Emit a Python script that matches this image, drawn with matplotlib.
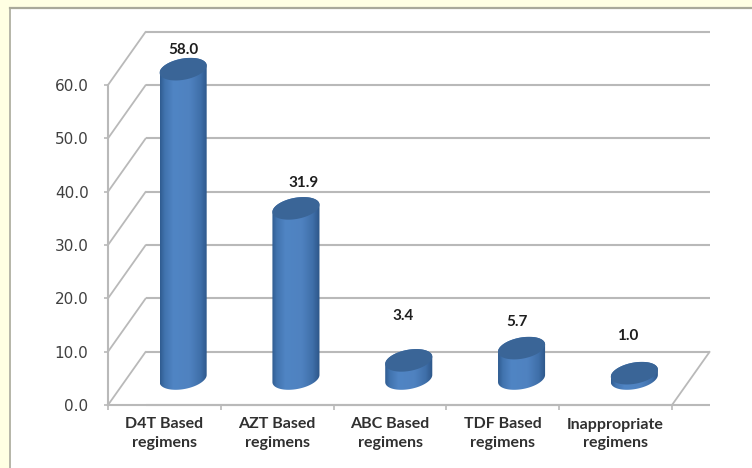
import numpy as np
import matplotlib
matplotlib.use("Agg")
import matplotlib.pyplot as plt
from matplotlib.colors import LinearSegmentedColormap
from matplotlib.patches import Polygon, Rectangle

categories = ["D4T Based\nregimens", "AZT Based\nregimens", "ABC Based\nregimens",
              "TDF Based\nregimens", "Inappropriate\nregimens"]
values = [58.0, 31.9, 3.4, 5.7, 1.0]
value_ticks = [0, 10, 20, 30, 40, 50, 60]
label_offsets = [(0, 19), (8, 25), (-6, 44), (-5, 26), (-7, 37)]

W, H = 752, 468
GRID = "#b9b9b9"
TEXT = "#303030"
LABEL_FONT = "Lato"

fig = plt.figure(figsize=(W / 100, H / 100), dpi=100, facecolor="#ffffe3")
fig.add_artist(Rectangle((9 / W, 0), (W - 9) / W, (H - 8) / H, transform=fig.transFigure,
                         facecolor="white", edgecolor="none", zorder=-3))
fig.add_artist(plt.Line2D([9.5 / W, 9.5 / W], [0, (H - 8) / H], color="#a9a99a", lw=1.2, zorder=-2))
fig.add_artist(plt.Line2D([9.5 / W, 1], [(H - 8) / H, (H - 8) / H], color="#a9a99a", lw=1.6, zorder=-2))

ax = fig.add_axes([108 / W, (H - 405) / H, 564 / W, 320 / H])
ax.set_facecolor("none")

# Scale factors between screen pixels and the data units of each axis
px_x = 5 / 564
px_y = 60 / 320
depth_x, depth_y = 37.5 * px_x, 53 * px_y

# Back wall, side wall and floor of the 3D box
for v in value_ticks + [70]:
    ax.plot([-0.5 + depth_x, 4.5 + depth_x], [v, v], color=GRID, lw=1.5, zorder=1,
            clip_on=False, solid_capstyle="butt")
    if v <= 60:
        ax.plot([-0.5, -0.5 + depth_x], [v, v + depth_y], color=GRID, lw=1.3, zorder=1, clip_on=False)
ax.plot([4.5, 4.5 + depth_x], [0, depth_y], color=GRID, lw=1.3, zorder=1, clip_on=False)

body_cmap = LinearSegmentedColormap.from_list(
    "cylinder",
    [(0.0, "#2f5b90"), (0.10, "#4173ae"), (0.28, "#5085c4"), (0.62, "#4f82c0"),
     (0.85, "#3f6fa9"), (1.0, "#2c5587")])
gradient = np.linspace(0, 1, 256).reshape(1, -1)

# Elliptical cross section of a cylinder, sheared along the box depth
a, skew_x, skew_y = 22.3 * px_x, 7.5 * px_x, 11.3 * px_y


def ring(cx, cy, t):
    return np.column_stack([cx + a * np.cos(t) + skew_x * np.sin(t), cy + skew_y * np.sin(t)])


t_right = np.arctan2(skew_x, a)
half = np.hypot(a, skew_x)

for i, (value, offset) in enumerate(zip(values, label_offsets)):
    cx = i + depth_x / 2
    base, top = depth_y / 2, value + depth_y / 2
    lower = ring(cx, base, np.linspace(t_right + np.pi, t_right + 2 * np.pi, 80))
    upper = ring(cx, top, np.linspace(t_right, t_right + np.pi, 80))
    outline = Polygon(np.vstack([lower, upper]), closed=True, transform=ax.transData,
                      facecolor="none", edgecolor="none", clip_on=False)
    ax.add_patch(outline)
    body = ax.imshow(gradient, extent=[cx - half, cx + half, base - skew_y, top + skew_y],
                     cmap=body_cmap, aspect="auto", zorder=3, interpolation="bilinear")
    body.set_clip_box(fig.bbox)
    body.set_clip_path(outline)
    cap = ring(cx, top, np.linspace(0, 2 * np.pi, 120))
    ax.add_patch(Polygon(cap, closed=True, facecolor="#3a6597", edgecolor="none", zorder=4, clip_on=False))
    ax.annotate(f"{value:.1f}", (cx, top), xytext=offset, textcoords="offset pixels",
                ha="center", va="center", fontsize=11, fontweight="bold",
                family=LABEL_FONT, color="#1e1e1e", zorder=5, annotation_clip=False)

ax.set_xlim(-0.5, 4.5)
ax.set_ylim(0, 60)

ax.set_yticks(value_ticks)
ax.set_yticklabels([f"{v:.1f}" for v in value_ticks], fontsize=11, color="#404040", family="DejaVu Sans")
ax.set_xticks(np.arange(-0.5, 5, 1))
ax.set_xticklabels([])
ax.set_xticks(range(5), labels=categories, minor=True)
ax.tick_params(axis="x", which="minor", length=0, pad=9, labelsize=11.5, labelcolor=TEXT)
for lab in ax.get_xticklabels(minor=True):
    lab.set_fontfamily(LABEL_FONT)
    lab.set_fontweight("bold")
    lab.set_linespacing(1.4)
ax.tick_params(axis="x", which="major", length=3.5, color=GRID, width=1.2)
ax.tick_params(axis="y", length=3, color=GRID, width=1.2, pad=11)

for side in ("top", "right"):
    ax.spines[side].set_visible(False)
for side in ("left", "bottom"):
    ax.spines[side].set_color(GRID)
    ax.spines[side].set_linewidth(1.5)

fig.savefig("out.png", dpi=100, facecolor=fig.get_facecolor())
